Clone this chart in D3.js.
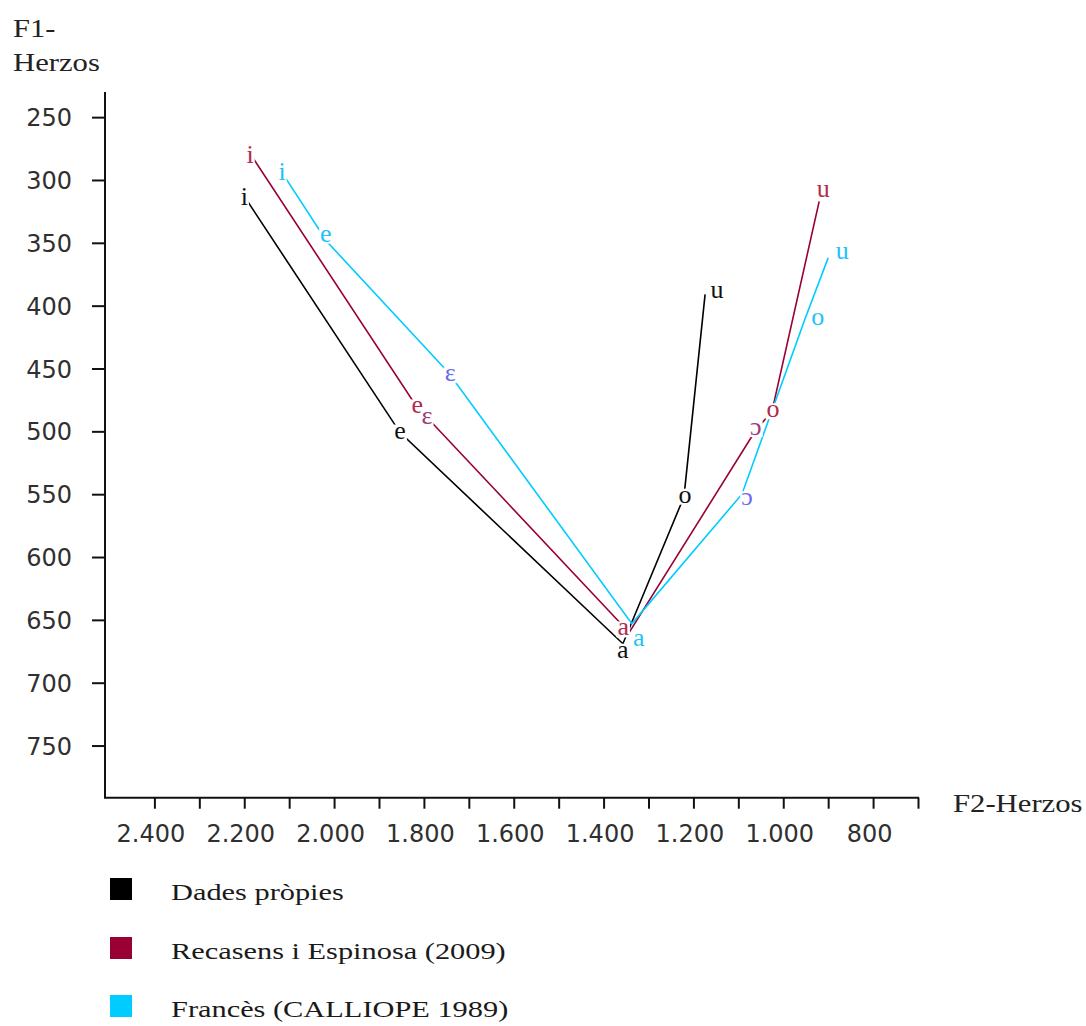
<!DOCTYPE html>
<html>
<head>
<meta charset="utf-8">
<script src="https://cdn.jsdelivr.net/npm/d3@7"></script>
<style>
  html, body { margin: 0; padding: 0; background: #ffffff; }
  svg { display: block; }
</style>
</head>
<body>
<script>
// ---------------- DATA ----------------
const seriesNames = ["Dades pròpies", "Recasens i Espinosa (2009)", "Francès (CALLIOPE 1989)"];

const dadesVowels = ["i", "e", "a", "o", "u"];
const dadesF2 = [2200, 1853, 1357, 1221, 1174];
const dadesF1 = [313, 501, 669, 552, 391];

const recasensVowels = ["i", "e", "ε", "a", "ɔ", "o", "u"];
const recasensF2 = [2187, 1815, 1793, 1343, 1061, 1025, 920];
const recasensF1 = [279, 481, 489, 660, 499, 484, 317];

const calliopeVowels = ["i", "e", "ε", "a", "ɔ", "o", "u"];
const calliopeF2 = [2118, 2016, 1746, 1337, 1092, 952, 900];
const calliopeF1 = [293, 349, 453, 653, 550, 411, 362];

const yTickLabels = [250, 300, 350, 400, 450, 500, 550, 600, 650, 700, 750];
const xTickLabels = [2400, 2200, 2000, 1800, 1600, 1400, 1200, 1000, 800];

// ---------------- STYLE ----------------
const seriesColors = ["#000000", "#990033", "#00ccff"];
const labelColors = [
  { base: "#111111", ipa: "#111111" },
  { base: "#b32a4c", ipa: "#9c3a78" },
  { base: "#1ec3f5", ipa: "#6a6af2" }
];
// label nudges (px) relative to each point, per series
const labelNudges = [
  [[0, 0], [0, 0], [0, 8], [1, 0], [12, -2]],
  [[0, 0], [0, 0], [0, 0], [-6, -3], [0, -1], [1, 0], [4, -10]],
  [[1, 0], [-1, -6], [2, 3], [7, 16], [5, 5], [13, 0], [14, -5]]
];

const W = 1086, H = 1026;
const svg = d3.select("body").append("svg").attr("width", W).attr("height", H);

const x = d3.scaleLinear().domain([2510, 700]).range([105, 918]);
const y = d3.scaleLinear().domain([230, 791.5]).range([92, 797.7]);

const fmt = d3.formatLocale({ decimal: ",", thousands: ".", grouping: [3], currency: ["", ""] }).format(",");

function stretch(sel, f) {
  sel.each(function () {
    const w = this.getComputedTextLength();
    this.setAttribute("textLength", w * f);
    this.setAttribute("lengthAdjust", "spacingAndGlyphs");
  });
}

// ---------------- AXES ----------------
const yAxis = d3.axisLeft(y).tickValues(yTickLabels).tickSize(13).tickSizeOuter(0).tickPadding(20);
const gy = svg.append("g").attr("transform", "translate(105,0)").call(yAxis);
gy.select(".domain").attr("stroke", "#111").attr("stroke-width", 2).attr("d", "M0,92V797.7");
gy.selectAll(".tick line").attr("stroke", "#111").attr("stroke-width", 2);
gy.selectAll(".tick text")
  .attr("font-family", "DejaVu Sans, Verdana, sans-serif")
  .attr("font-size", 24).attr("fill", "#303030").attr("dy", "0.36em");

const xMinor = d3.range(2400, 699, -100);
const xAxis = d3.axisBottom(x).tickValues(xMinor).tickSize(11).tickSizeOuter(0).tickPadding(16)
  .tickFormat(d => xTickLabels.includes(d) ? fmt(d) : "");
const gx = svg.append("g").attr("transform", "translate(0,797.7)").call(xAxis);
gx.select(".domain").attr("stroke", "#111").attr("stroke-width", 2).attr("d", "M104,0H919");
gx.selectAll(".tick line").attr("stroke", "#111").attr("stroke-width", 2);
gx.selectAll(".tick text")
  .attr("font-family", "DejaVu Sans, Verdana, sans-serif")
  .attr("font-size", 24).attr("fill", "#303030").attr("dx", -4);

// axis titles
const serif = "Liberation Serif, Times New Roman, serif";
const t1 = svg.append("text").attr("x", 13).attr("y", 37).attr("font-family", serif)
  .attr("font-size", 26).attr("fill", "#222").text("F1-");
const t2 = svg.append("text").attr("x", 13).attr("y", 71).attr("font-family", serif)
  .attr("font-size", 26).attr("fill", "#222").text("Herzos");
const t3 = svg.append("text").attr("x", 953).attr("y", 812).attr("font-family", serif)
  .attr("font-size", 26).attr("fill", "#222").text("F2-Herzos");
stretch(t1, 1.17); stretch(t2, 1.18); stretch(t3, 1.18);

// ---------------- SERIES ----------------
const allSeries = [
  dadesVowels.map((v, i) => ({ v, f2: dadesF2[i], f1: dadesF1[i] })),
  recasensVowels.map((v, i) => ({ v, f2: recasensF2[i], f1: recasensF1[i] })),
  calliopeVowels.map((v, i) => ({ v, f2: calliopeF2[i], f1: calliopeF1[i] }))
];

const line = d3.line().x(d => x(d.f2)).y(d => y(d.f1));

svg.append("g").selectAll("path").data(allSeries).join("path")
  .attr("d", line)
  .attr("fill", "none")
  .attr("stroke", (d, i) => seriesColors[i])
  .attr("stroke-width", 1.6);

const isIpa = v => v === "ε" || v === "ɔ";
allSeries.forEach((ser, si) => {
  const g = svg.append("g");
  ser.forEach((d, pi) => {
    const nd = labelNudges[si][pi];
    const cx = x(d.f2) + nd[0];
    const cy = y(d.f1) + nd[1];
    const tall = d.v === "i";
    const rect = g.append("rect").attr("fill", "#ffffff");
    const txt = g.append("text")
      .attr("x", cx).attr("y", cy + (tall ? 9 : 6))
      .attr("text-anchor", "middle")
      .attr("font-family", "Liberation Serif, DejaVu Serif, serif")
      .attr("font-size", 26)
      .attr("fill", isIpa(d.v) ? labelColors[si].ipa : labelColors[si].base)
      .text(d.v);
    const w = txt.node().getComputedTextLength();
    const h = tall ? 22 : 16;
    rect.attr("x", cx - w / 2 - 1).attr("y", cy - h / 2).attr("width", w + 2).attr("height", h);
  });
});

// ---------------- LEGEND ----------------
const legendTop = [878, 937, 995];
const lg = svg.append("g");
seriesNames.forEach((name, i) => {
  lg.append("rect").attr("x", 110).attr("y", legendTop[i]).attr("width", 22).attr("height", 22)
    .attr("fill", seriesColors[i]);
  const t = lg.append("text").attr("x", 171).attr("y", legendTop[i] + 22)
    .attr("font-family", serif).attr("font-size", 23).attr("fill", "#1a1a1a").text(name);
  stretch(t, 1.32);
});
</script>
</body>
</html>
